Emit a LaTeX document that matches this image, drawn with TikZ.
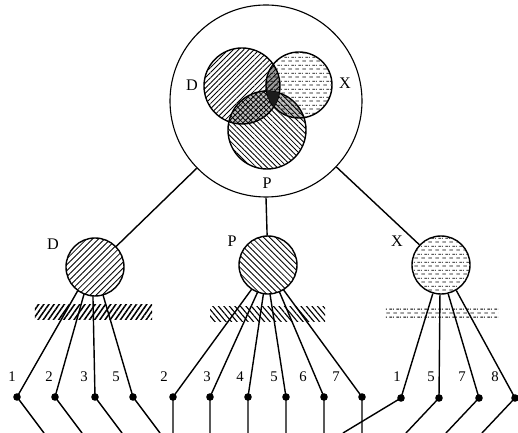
\documentclass[tikz,border=0pt]{standalone}
\usepackage{fontspec}
\setmainfont{Liberation Serif}
\usetikzlibrary{patterns,patterns.meta}
\pgfdeclarepatternformonly{hdashes}{\pgfpointorigin}{\pgfqpoint{5pt}{5.6pt}}{\pgfqpoint{5pt}{5.6pt}}{
  \pgfsetlinewidth{0.6pt}
  \pgfpathmoveto{\pgfqpoint{0.3pt}{1.4pt}}\pgfpathlineto{\pgfqpoint{3.2pt}{1.4pt}}
  \pgfpathmoveto{\pgfqpoint{2.8pt}{4.2pt}}\pgfpathlineto{\pgfqpoint{5pt}{4.2pt}}
  \pgfpathmoveto{\pgfqpoint{0pt}{4.2pt}}\pgfpathlineto{\pgfqpoint{0.7pt}{4.2pt}}
  \pgfusepath{stroke}}
\begin{document}
\begin{tikzpicture}[x=0.25mm, y=-0.25mm,
            ring/.style={draw, circle, line width=0.8pt, inner sep=0pt, minimum size=48mm},
            venn/.style={draw, circle, line width=1pt, inner sep=0pt},
            group/.style={draw, circle, line width=1pt, inner sep=0pt, minimum size=14.5mm},
            bar/.style={rectangle, inner sep=0pt, minimum height=3.75mm},
            dot/.style={fill, circle, inner sep=0pt, minimum size=1.9mm},
            lbl/.style={font=\fontsize{11.5}{13}\selectfont, inner sep=1pt},
            num/.style={font=\fontsize{10.5}{12}\selectfont, inner sep=1pt},
            link/.style={line width=1pt}
        ]
        \useasboundingbox (0,0) rectangle (518,433);

        \node[ring] (big) at (266,101) {};
        \node[venn, minimum size=19mm, pattern={Lines[angle=45,distance=2.6pt,line width=0.6pt]}] (vD) at (242,86) {};
        \node[venn, minimum size=16.5mm, pattern=hdashes] (vX) at (299,85) {};
        \node[venn, minimum size=19.5mm, pattern={Lines[angle=-45,distance=2.6pt,line width=0.6pt]}] (vP) at (267,130) {};
        \begin{scope}
            \clip (vD.center) circle [radius=9.5mm];
            \fill[black, opacity=0.4] (vX.center) circle [radius=8.25mm];
            \fill[black, opacity=0.25] (vP.center) circle [radius=9.75mm];
            \clip (vX.center) circle [radius=8.25mm];
            \fill[black!85] (vP.center) circle [radius=9.75mm];
        \end{scope}
        \begin{scope}
            \clip (vX.center) circle [radius=8.25mm];
            \fill[black, opacity=0.25] (vP.center) circle [radius=9.75mm];
        \end{scope}
        \node[lbl] (tD) at (192,85) {D};
        \node[lbl] (tX) at (345,83) {X};
        \node[lbl] (tP) at (267,183) {P};

        \node[group, pattern={Lines[angle=45,distance=3pt,line width=0.6pt]}] (gD) at (95,267) {};
        \node[group, pattern={Lines[angle=-45,distance=3pt,line width=0.6pt]}] (gP) at (268,265) {};
        \node[group, pattern=hdashes] (gX) at (441,265) {};
        \node[lbl] (sD) at (53,244) {D};
        \node[lbl] (sP) at (232,241) {P};
        \node[lbl] (sX) at (397,241) {X};

        \draw[link] (big) -- (gD);
        \draw[link] (big.south) -- (gP);
        \draw[link] (big) -- (gX);

        \node[bar, minimum width=29.25mm, pattern={Lines[angle=55,distance=3pt,line width=1.1pt]}] (hD) at (93.5,312.5) {};
        \node[bar, minimum width=28.75mm, pattern={Lines[angle=-50,distance=3pt,line width=0.8pt]}] (hP) at (267.5,314.5) {};
        \node[bar, minimum width=28.25mm, minimum height=3mm, pattern=hdashes] (hX) at (441.5,314) {};

        \node[dot] (dD1) at (17,397) {};
        \node[dot] (dD2) at (55,397) {};
        \node[dot] (dD3) at (95,397) {};
        \node[dot] (dD5) at (133,397) {};
        \node[num] (nD1) at (12,377) {1};
        \node[num] (nD2) at (49,377) {2};
        \node[num] (nD3) at (84,377) {3};
        \node[num] (nD5) at (116,377) {5};
        \draw[link] (gD.-126) -- (dD1.center) -- ++(27,36);
        \draw[link] (gD.-112) -- (dD2.center) -- ++(27,36);
        \draw[link] (gD.-94) -- (dD3.center) -- ++(27,36);
        \draw[link] (gD.-74) -- (dD5.center) -- ++(27,36);

        \node[dot] (dP2) at (173,397) {};
        \node[dot] (dP3) at (210,397) {};
        \node[dot] (dP4) at (248,397) {};
        \node[dot] (dP5) at (286,397) {};
        \node[dot] (dP6) at (324,397) {};
        \node[dot] (dP7) at (362,397) {};
        \node[num] (nP2) at (164,377) {2};
        \node[num] (nP3) at (207,377) {3};
        \node[num] (nP4) at (240,377) {4};
        \node[num] (nP5) at (274,377) {5};
        \node[num] (nP6) at (303,377) {6};
        \node[num] (nP7) at (336,377) {7};
        \draw[link] (gP.-124) -- (dP2.center) -- ++(0,36);
        \draw[link] (gP.-111) -- (dP3.center) -- ++(0,36);
        \draw[link] (gP.-99) -- (dP4.center) -- ++(0,36);
        \draw[link] (gP.-86) -- (dP5.center) -- ++(0,36);
        \draw[link] (gP.-67) -- (dP6.center) -- ++(0,36);
        \draw[link] (gP.-58) -- (dP7.center) -- ++(0,36);

        \node[dot] (dX1) at (401,398) {};
        \node[dot] (dX5) at (439,398) {};
        \node[dot] (dX7) at (479,398) {};
        \node[dot] (dX8) at (515,398) {};
        \node[num] (nX1) at (397,377) {1};
        \node[num] (nX5) at (431,377) {5};
        \node[num] (nX7) at (462,377) {7};
        \node[num] (nX8) at (495,377) {8};
        \draw[link] (gX.-106) -- (dX1.center) -- ++(-58,35);
        \draw[link] (gX.-92) -- (dX5.center) -- ++(-33,35);
        \draw[link] (gX.-76) -- (dX7.center) -- ++(-33,35);
        \draw[link] (gX.-59) -- (dX8.center) -- ++(-33,35);
    \end{tikzpicture}
\end{document}
